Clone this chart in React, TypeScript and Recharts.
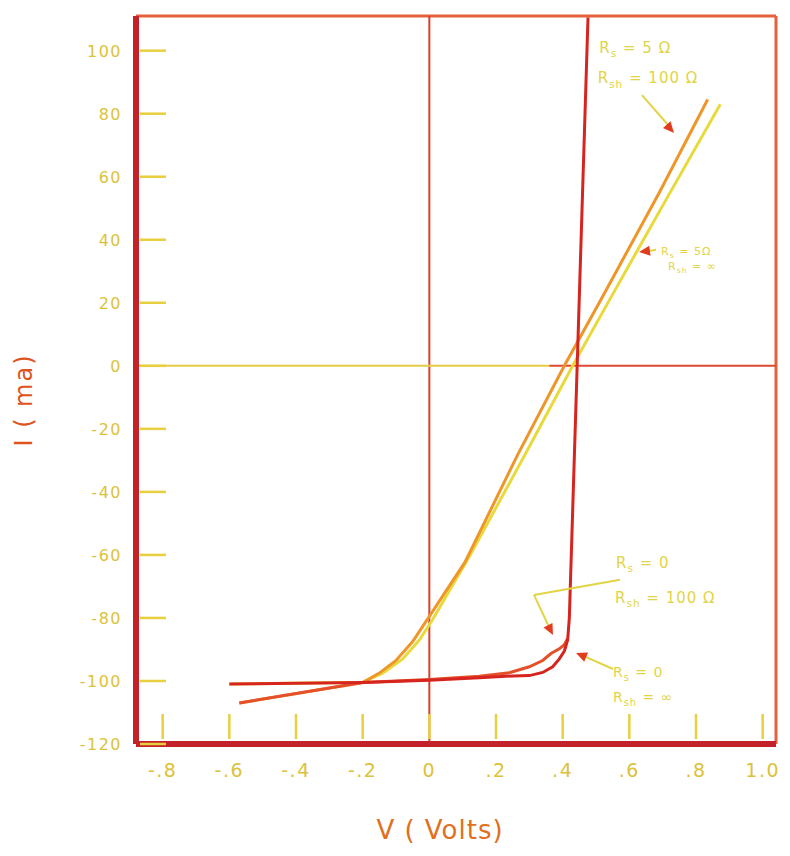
import React from 'react';
import { LineChart, Line, XAxis, YAxis, ReferenceLine, ReferenceDot, Label } from 'recharts';

// ---------- axis ticks ----------
const X_TICKS = [-0.8, -0.6, -0.4, -0.2, 0, 0.2, 0.4, 0.6, 0.8, 1.0];
const X_TICK_LABELS = ['-.8', '-.6', '-.4', '-.2', '0', '.2', '.4', '.6', '.8', '1.0'];
const Y_TICKS = [100, 80, 60, 40, 20, 0, -20, -40, -60, -80, -100, -120];
const Y_TICK_LABELS = ['100', '80', '60', '40', '20', '0', '-20', '-40', '-60', '-80', '-100', '-120'];

// ---------- series (V in volts, I in mA) ----------
// Rs = 0, Rsh = ∞
const V_RS0_RSHINF = [-0.6, -0.2, 0.0, 0.15, 0.25, 0.3, 0.34, 0.37, 0.39, 0.405, 0.415, 0.42, 0.476];
const I_RS0_RSHINF = [-101, -100.5, -99.8, -99, -98.4, -98.3, -97.3, -95.5, -93, -90.5, -87, -80, 110.5];

// Rs = 0, Rsh = 100 Ω
const V_RS0_RSH100 = [-0.57, -0.2, 0.0, 0.15, 0.24, 0.3, 0.34, 0.365, 0.39, 0.405, 0.415];
const I_RS0_RSH100 = [-107, -100.5, -99.5, -98.5, -97.4, -95.5, -93.5, -91.3, -89.8, -88.5, -86.5];

// Rs = 5 Ω, Rsh = 100 Ω
const V_RS5_RSH100 = [-0.57, -0.2, -0.15, -0.1, -0.05, 0.0, 0.107, 0.266, 0.405, 0.52, 0.69, 0.835];
const I_RS5_RSH100 = [-107, -100.5, -97.5, -93.5, -87.5, -79.5, -62.3, -28, 0, 22, 55, 84.5];

// Rs = 5 Ω, Rsh = ∞
const V_RS5_RSHINF = [-0.6, -0.2, -0.14, -0.08, -0.03, 0.01, 0.12, 0.288, 0.43, 0.541, 0.709, 0.873];
const I_RS5_RSHINF = [-101, -100.4, -97.5, -93, -87, -80.5, -60.5, -28, 0, 21, 52.5, 83];

const zip = (vs: number[], is: number[]) => vs.map((v, k) => ({ v, i: is[k] }));

const DATA_RS0_RSHINF = zip(V_RS0_RSHINF, I_RS0_RSHINF);
const DATA_RS0_RSH100 = zip(V_RS0_RSH100, I_RS0_RSH100);
const DATA_RS5_RSH100 = zip(V_RS5_RSH100, I_RS5_RSH100);
const DATA_RS5_RSHINF = zip(V_RS5_RSHINF, I_RS5_RSHINF);

// ---------- styles ----------
const FONT = '"DejaVu Sans", "Liberation Sans", sans-serif';
const TICK_COLOR = '#dcc23a';
const TICKMARK_COLOR = '#e8cf40';
const ANN_COLOR = '#e2d446';
const AXIS_RED = '#c4222a';
const FRAME_RED = '#e6603c';
const ARROW_RED = '#e23c1e';

const XTick = (props: any) => {
  const { x, y, payload } = props;
  const idx = X_TICKS.findIndex((t) => Math.abs(t - payload.value) < 1e-9);
  return (
    <g>
      <line x1={x} x2={x} y1={y - 5} y2={y - 30} stroke={TICKMARK_COLOR} strokeWidth={2.5} />
      <text x={x} y={y + 33} textAnchor="middle" fill={TICK_COLOR} fontSize={19} fontFamily={FONT} letterSpacing={1.5}>
        {X_TICK_LABELS[idx]}
      </text>
    </g>
  );
};

const YTick = (props: any) => {
  const { x, y, payload } = props;
  const idx = Y_TICKS.findIndex((t) => Math.abs(t - payload.value) < 1e-9);
  return (
    <g>
      <line x1={x + 4} x2={x + 30} y1={y} y2={y} stroke={TICKMARK_COLOR} strokeWidth={2.5} />
      <text x={x - 14} y={y} dy={6} textAnchor="end" fill={TICK_COLOR} fontSize={16} fontFamily={FONT} letterSpacing={1.5}>
        {Y_TICK_LABELS[idx]}
      </text>
    </g>
  );
};

const XTitle = (props: any) => {
  const vb = props.viewBox || {};
  return (
    <text x={vb.x + vb.width / 2 - 16} y={vb.y + 95} textAnchor="middle" fill="#e0701e" fontSize={26} fontFamily={FONT} letterSpacing={1}>
      V ( Volts)
    </text>
  );
};

const YTitle = (props: any) => {
  const vb = props.viewBox || {};
  const cx = vb.x - 44;
  const cy = vb.y + vb.height / 2 + 20;
  return (
    <text x={cx} y={cy} transform={`rotate(-90, ${cx}, ${cy})`} textAnchor="middle" fill="#e0521e" fontSize={24} fontFamily={FONT} letterSpacing={2}>
      I ( ma)
    </text>
  );
};

// annotation labels (anchored in data coordinates)
type Ann = { v: number; i: number; sub: string; rest: string; size: number };
const ANNOTATIONS: Ann[] = [
  { v: 0.51, i: 99.3, sub: 's', rest: ' = 5 Ω', size: 15 },
  { v: 0.505, i: 89.7, sub: 'sh', rest: ' = 100 Ω', size: 15 },
  { v: 0.695, i: 35.2, sub: 's', rest: ' = 5Ω', size: 11 },
  { v: 0.716, i: 30.4, sub: 'sh', rest: ' = ∞', size: 11 },
  { v: 0.56, i: -64.1, sub: 's', rest: ' = 0', size: 15 },
  { v: 0.557, i: -75.2, sub: 'sh', rest: ' = 100 Ω', size: 15 },
  { v: 0.551, i: -98.7, sub: 's', rest: ' = 0', size: 14 },
  { v: 0.551, i: -106.6, sub: 'sh', rest: ' = ∞', size: 14 },
];

const annLabel = (a: Ann) => (props: any) => {
  const vb = props.viewBox || {};
  return (
    <text x={vb.x} y={vb.y} fill={ANN_COLOR} fontSize={a.size} fontFamily={FONT} letterSpacing={1}>
      R
      <tspan fontSize={a.size * 0.7} dy={a.size * 0.3}>{a.sub}</tspan>
      <tspan dy={-a.size * 0.3}>{a.rest}</tspan>
    </text>
  );
};

type Leader = { pts: { x: number; y: number }[] };
const LEADERS: Leader[] = [
  { pts: [{ x: 0.638, y: 85.9 }, { x: 0.719, y: 76.1 }] },
  { pts: [{ x: 0.68, y: 36.8 }, { x: 0.645, y: 36.2 }] },
  { pts: [{ x: 0.572, y: -67.9 }, { x: 0.314, y: -72.7 }] },
  { pts: [{ x: 0.314, y: -72.7 }, { x: 0.362, y: -83.5 }] },
  { pts: [{ x: 0.551, y: -96.2 }, { x: 0.45, y: -91.5 }] },
];

type Arrow = { v: number; i: number; angle: number };
const ARROWS: Arrow[] = [
  { v: 0.734, i: 73.9, angle: 49 },
  { v: 0.629, i: 36.1, angle: 173 },
  { v: 0.371, i: -85.4, angle: 63 },
  { v: 0.44, i: -91.1, angle: 203 },
];

const arrowShape = (angle: number) => (p: any) => (
  <polygon points="0,0 -11,-5 -11,5" transform={`translate(${p.cx},${p.cy}) rotate(${angle})`} fill={ARROW_RED} />
);

export default function App() {
  return (
    <div style={{ position: 'absolute', left: 0, top: 0, width: 790, height: 856, background: '#ffffff' }}>
      <LineChart width={790} height={856} margin={{ top: 16, right: 14, left: 76, bottom: 0 }}>
        <XAxis
          dataKey="v"
          type="number"
          domain={[-0.88, 1.04]}
          ticks={X_TICKS}
          interval={0}
          allowDataOverflow
          height={112}
          tickSize={0}
          tickMargin={0}
          tickLine={false}
          tick={<XTick />}
          axisLine={{ stroke: AXIS_RED, strokeWidth: 6 }}
        >
          <Label content={<XTitle />} />
        </XAxis>
        <YAxis
          dataKey="i"
          type="number"
          domain={[-120, 111]}
          ticks={Y_TICKS}
          interval={0}
          allowDataOverflow
          width={60}
          tickSize={0}
          tickMargin={0}
          tickLine={false}
          tick={<YTick />}
          axisLine={{ stroke: AXIS_RED, strokeWidth: 6 }}
        >
          <Label content={<YTitle />} />
        </YAxis>

        <ReferenceLine y={111} stroke={FRAME_RED} strokeWidth={3} />
        <ReferenceLine x={1.04} stroke={FRAME_RED} strokeWidth={3} />
        <ReferenceLine x={0} stroke="#d8402c" strokeWidth={2} />
        <ReferenceLine segment={[{ x: -0.88, y: 0 }, { x: 0.36, y: 0 }]} stroke="#e4cc44" strokeWidth={2} />
        <ReferenceLine segment={[{ x: 0.36, y: 0 }, { x: 1.04, y: 0 }]} stroke="#dc4a32" strokeWidth={2} />

        <Line data={DATA_RS5_RSHINF} dataKey="i" type="linear" dot={false} stroke="#e8da3c" strokeWidth={3} isAnimationActive={false} />
        <Line data={DATA_RS5_RSH100} dataKey="i" type="linear" dot={false} stroke="#ee962a" strokeWidth={3} isAnimationActive={false} />
        <Line data={DATA_RS0_RSH100} dataKey="i" type="linear" dot={false} stroke="#e4502a" strokeWidth={3} isAnimationActive={false} />
        <Line data={DATA_RS0_RSHINF} dataKey="i" type="linear" dot={false} stroke="#d6241e" strokeWidth={3} isAnimationActive={false} />

        {LEADERS.map((l, k) => (
          <ReferenceLine key={`ld${k}`} segment={l.pts} stroke={ANN_COLOR} strokeWidth={2} ifOverflow="visible" />
        ))}
        {ARROWS.map((a, k) => (
          <ReferenceDot key={`ar${k}`} x={a.v} y={a.i} r={5} shape={arrowShape(a.angle)} ifOverflow="visible" />
        ))}
        {ANNOTATIONS.map((a, k) => (
          <ReferenceDot key={`an${k}`} x={a.v} y={a.i} r={0} fill="none" stroke="none" ifOverflow="visible">
            <Label content={annLabel(a)} />
          </ReferenceDot>
        ))}
      </LineChart>
    </div>
  );
}
